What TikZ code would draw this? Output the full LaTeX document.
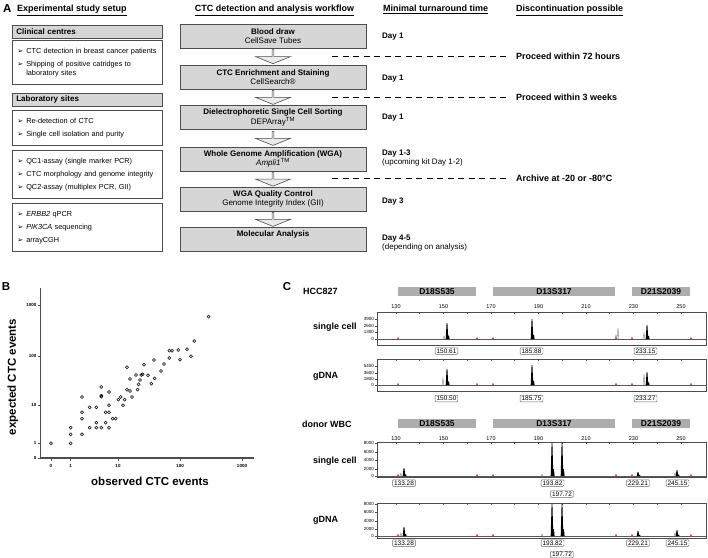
\documentclass[tikz,border=0pt]{standalone}
\usepackage{fontspec}
\setmainfont{Liberation Sans}
\newfontfamily\dingfont{DejaVu Sans}
\usetikzlibrary{shapes.arrows, calc}

\definecolor{boxgray}{HTML}{D6D6D6}
\definecolor{bargray}{HTML}{ADADAD}
\definecolor{edgegray}{HTML}{4D4D4D}
\definecolor{markred}{HTML}{E8414B}

% bullet of the list boxes
\newcommand{\itm}{\makebox[9pt][l]{\dingfont\fontsize{7}{7}\selectfont ➢}}
% electropherogram peak: x, baseline, top
\newcommand{\pk}[3]{\fill (#1-1.3,#2) -- (#1-0.4,#3) -- (#1+0.4,#3) -- (#1+1.1,{#2-0.22*(#2-#3)}) -- (#1+2,{#2-0.2*(#2-#3)}) -- (#1+2.6,#2) -- cycle;}
% stutter peak, outline only
\newcommand{\stp}[3]{\draw[gray, line width=0.4pt] (#1-1,#2) -- (#1,#3) -- (#1+0.9,#2);}
% size standard marker
\newcommand{\rmk}[2]{\fill[markred] (#1-1.1,#2) -- (#1+1.1,#2) -- (#1,#2-2.4) -- cycle;}

\begin{document}
\begin{tikzpicture}[x=1pt, y=-1pt,
  heading/.style={anchor=base west, inner sep=0pt, font=\fontsize{9}{11}\selectfont\bfseries},
  panel/.style={inner sep=0pt, font=\fontsize{11.5}{13}\selectfont\bfseries},
  hdrbox/.style={draw=edgegray, fill=boxgray, line width=0.6pt, anchor=north west,
    minimum height=13pt, text width=142pt, inner xsep=4pt, inner ysep=0pt,
    align=left, font=\fontsize{8}{9}\selectfont\bfseries},
  listbox/.style={draw=edgegray, line width=0.6pt, anchor=north west,
    text width=140pt, inner xsep=5pt, inner ysep=0pt,
    align=left, font=\fontsize{7.3}{9}\selectfont},
  wfbox/.style={draw=edgegray, fill=boxgray, line width=0.6pt, minimum width=186pt,
    minimum height=24pt, inner sep=0pt, align=center, font=\fontsize{8}{9.5}\selectfont},
  wfarrow/.style={single arrow, draw=edgegray, fill=boxgray!50, line width=0.6pt,
    rotate=-90, minimum height=14pt, minimum width=35pt, inner sep=0pt,
    single arrow head extend=6pt, single arrow tip angle=136},
  daytxt/.style={anchor=north west, inner sep=0pt, align=left, font=\fontsize{8}{9}\selectfont},
  stoptxt/.style={anchor=west, inner sep=0pt, font=\fontsize{9}{11}\selectfont\bfseries},
  stopline/.style={line width=0.9pt, dash pattern=on 6pt off 4.5pt},
  axlbl/.style={inner sep=0pt, font=\fontsize{11.5}{13}\selectfont\bfseries},
  tkB/.style={inner sep=0pt, font=\fontsize{4.5}{5}\selectfont\bfseries},
  locus/.style={fill=bargray, minimum height=9pt, inner sep=0pt, font=\fontsize{8.5}{9}\selectfont\bfseries},
  rowlbl/.style={anchor=west, inner sep=0pt, font=\fontsize{9}{10}\selectfont\bfseries},
  bpx/.style={inner sep=0pt, font=\fontsize{5.5}{6}\selectfont},
  rfu/.style={anchor=east, inner sep=0pt, font=\fontsize{4.5}{5}\selectfont},
  peaklbl/.style={draw=gray!80!black, fill=white, rounded corners=1pt, inner xsep=1.5pt,
    inner ysep=1pt, font=\fontsize{6.5}{7}\selectfont},
  epg/.style={draw=edgegray, line width=0.6pt}
]
\useasboundingbox (0,0) rectangle (708,557);

% ---------------- A: setup and workflow ----------------
\node[panel, anchor=base west] (pA) at (3,12) {A};
\node[heading] (hSetup) at (17,11.5) {\underline{Experimental study setup}};
\node[heading, anchor=base] (hFlow) at (274.5,11.5) {\underline{CTC detection and analysis workflow}};
\node[heading] (hTime) at (383,11.5) {\underline{Minimal turnaround time}};
\node[heading] (hStop) at (516,11.5) {\underline{Discontinuation possible}};

\node[hdrbox] (clin) at (12,25) {Clinical centres};
\node[listbox, minimum height=44pt] (clinL) at (12,40) {\itm CTC detection in breast cancer patients\\[4pt]
  \itm Shipping of positive catridges to\\ \hspace*{9pt}laboratory sites};
\node[hdrbox] (lab) at (12,93) {Laboratory sites};
\node[listbox, minimum height=35pt] (labL1) at (12,110) {\itm Re-detection of CTC\\[4pt]
  \itm Single cell isolation and purity};
\node[listbox, minimum height=48pt] (labL2) at (12,150) {\itm QC1-assay (single marker PCR)\\[4pt]
  \itm CTC morphology and genome integrity\\[4pt]
  \itm QC2-assay (multiplex PCR, GII)};
\node[listbox, minimum height=48pt] (labL3) at (12,203) {\itm \textit{ERBB2} qPCR\\[4pt]
  \itm \textit{PIK3CA} sequencing\\[4pt]
  \itm arrayCGH};

\node[wfbox] (w1) at (273,36) {\textbf{Blood draw}\\CellSave Tubes};
\node[wfbox] (w2) at (273,77) {\textbf{CTC Enrichment and Staining}\\CellSearch®};
\node[wfbox] (w3) at (273,117.5) {\textbf{Dielectrophoretic Single Cell Sorting}\\DEPArray\textsuperscript{TM}};
\node[wfbox] (w4) at (273,159) {\textbf{Whole Genome Amplification (WGA)}\\\textit{Ampli1}\textsuperscript{TM}};
\node[wfbox] (w5) at (273,199) {\textbf{WGA Quality Control}\\Genome Integrity Index (GII)};
\node[wfbox] (w6) at (273,239.5) {\textbf{Molecular Analysis}\\\strut};
\foreach \a/\b [count=\i] in {w1/w2, w2/w3, w3/w4, w4/w5, w5/w6}
  \node[wfarrow] (arr\i) at ($(\a.south)!0.5!(\b.north)$) {};

\node[daytxt] (d1) at (382,33) {\textbf{Day 1}};
\node[daytxt] (d2) at (382,75) {\textbf{Day 1}};
\node[daytxt] (d3) at (382,114) {\textbf{Day 1}};
\node[daytxt] (d4) at (382,150) {\textbf{Day 1-3}\\(upcoming kit Day 1-2)};
\node[daytxt] (d5) at (382,198) {\textbf{Day 3}};
\node[daytxt] (d6) at (382,235) {\textbf{Day 4-5}\\(depending on analysis)};

\coordinate (c1) at (332,56);
\coordinate (c2) at (332,97.5);
\coordinate (c3) at (332,178.5);
\node[stoptxt] (s1) at (516,56) {Proceed within 72 hours};
\node[stoptxt] (s2) at (516,97.5) {Proceed within 3 weeks};
\node[stoptxt] (s3) at (516,178.5) {Archive at -20 or -80°C};
\foreach \i in {1,2,3}
  \draw[stopline] (c\i) -- ($(s\i.west)+(-6,0)$);

% ---------------- B: scatter ----------------
\node[panel] (pB) at (6,287) {B};
\draw[edgegray, line width=1.1pt] (40.7,288) -- (40.7,458) -- (254,458);
\foreach \yy/\v in {305/1000, 356/100, 405/10, 443/1, 458/0} {
  \draw[edgegray, line width=0.8pt] (38,\yy) -- (40.7,\yy);
  \node[tkB, anchor=east] (yt\v) at (36.5,\yy) {\v};
}
\foreach \xx/\v in {51/0, 70.7/1, 118/10, 180/100, 242/1000} {
  \draw[edgegray, line width=0.8pt] (\xx,458) -- (\xx,461);
  \node[tkB] (xt\v) at (\xx,465.5) {\v};
}
\foreach \px/\py in {153/490, 212/443, 212/463, 212/490, 246/351, 246/397, 246/416, 246/463,
    269/382, 269/443, 289/382, 289/428, 289/443, 304/321, 304/347, 304/350, 304/443,
    317/397, 317/428, 327/336, 327/376, 327/397, 327/443, 338/416, 347/416, 355/359,
    362/351, 369/376, 374/359, 381/262, 381/329, 390/297, 390/333, 396/351, 408/285,
    413/329, 416/313, 420/300, 424/285, 428/283, 432/254, 444/286, 454/311, 462/240,
    464/295, 483/273, 492/252, 508/234, 508/212, 516/212, 535/210, 540/239, 561/208,
    573/229, 583/183, 626/110}
  \draw[line width=0.5pt] (\px/3,280+\py/3) circle[radius=1.5];
\node[axlbl, rotate=90] (ylab) at (13,377) {expected CTC events};
\node[axlbl] (xlab) at (150,481) {observed CTC events};

% ---------------- C: electropherograms ----------------
\node[panel] (pC) at (287,287) {C};
\node[rowlbl] (hcc) at (303,291) {HCC827};
\node[rowlbl] (wbc) at (302,424) {donor WBC};
\foreach \yy/\g in {291.5/a, 423.5/b} {
  \node[locus, minimum width=78pt] (m1\g) at (437,\yy) {D18S535};
  \node[locus, minimum width=122pt] (m2\g) at (554,\yy) {D13S317};
  \node[locus, minimum width=58pt] (m3\g) at (661,\yy) {D21S2039};
}
\foreach \yy/\g in {307/a, 439/b}
  \foreach \v [count=\i from 0] in {130,150,...,250}
    \node[bpx] (bp\g\i) at (396+\i*47.5,\yy) {\v};

\foreach \t/\b/\z in {312/345/339, 359/391/385, 442/477/476, 503/538/536} {
  \draw[epg] (377,\t) rectangle (706,\b);
  \draw[black!65, line width=0.35pt] (377,\z) -- (706,\z);
  \foreach \i in {0,...,12} \draw[epg] (396+\i*23.75,\t) -- ++(0,1.5);
}
\foreach \yy/\v in {319/3900, 326/2600, 332/1300, 339/0, 366/5400, 373/3600, 379/1800, 385/0,
    443/8000, 452/6000, 460/4000, 469/2000, 476/0, 504/8000, 512/6000, 521/4000, 529/2000, 536/0} {
  \draw[epg] (375,\yy) -- (377,\yy);
  \node[rfu] (r\yy) at (374,\yy) {\v};
}
\foreach \z in {339,385,476,536}
  \foreach \xx in {398,477,493,616,632,691} \rmk{\xx}{\z};

% HCC827 single cell
\stp{444}{339}{336} \pk{447}{339}{323} \pk{532}{339}{319}
\stp{616}{339}{335} \stp{618}{339}{328} \stp{644}{339}{333} \pk{647}{339}{325}
% HCC827 gDNA
\stp{443}{385}{378} \pk{447}{385}{369} \pk{532}{385}{365}
\stp{644}{385}{374} \pk{647}{385}{372}
% donor single cell
\stp{401}{476}{473} \pk{404}{476}{468} \stp{542}{476}{474} \pk{552}{476}{443}
\pk{562}{476}{443} \pk{638}{476}{472} \stp{675}{476}{473} \pk{677}{476}{470}
% donor gDNA
\stp{401}{536}{533} \pk{404}{536}{527} \stp{542}{536}{534} \pk{552}{536}{504}
\pk{562}{536}{504} \pk{638}{536}{531} \stp{675}{536}{533} \pk{677}{536}{530}

\node[rowlbl] (sc1) at (313,327) {single cell};
\node[rowlbl] (gd1) at (313,376) {gDNA};
\node[rowlbl] (sc2) at (313,461) {single cell};
\node[rowlbl] (gd2) at (313,520) {gDNA};

\node[peaklbl] (q1) at (446.5,351) {150.61};
\node[peaklbl] (q2) at (531.5,351) {185.88};
\node[peaklbl] (q3) at (645.5,351) {233.15};
\node[peaklbl] (q4) at (446.5,398.5) {150.50};
\node[peaklbl] (q5) at (531.5,398.5) {185.75};
\node[peaklbl] (q6) at (645.5,398.5) {233.27};
\node[peaklbl] (q7) at (404,483) {133.28};
\node[peaklbl] (q8) at (552.5,483) {193.82};
\node[peaklbl] (q9) at (562,494) {197.72};
\node[peaklbl] (q10) at (638,483) {229.21};
\node[peaklbl] (q11) at (677.5,483) {245.15};
\node[peaklbl] (q12) at (404,543) {133.28};
\node[peaklbl] (q13) at (552.5,543) {193.82};
\node[peaklbl] (q14) at (562,554.5) {197.72};
\node[peaklbl] (q15) at (638,543) {229.21};
\node[peaklbl] (q16) at (677.5,543) {245.15};
\end{tikzpicture}
\end{document}
